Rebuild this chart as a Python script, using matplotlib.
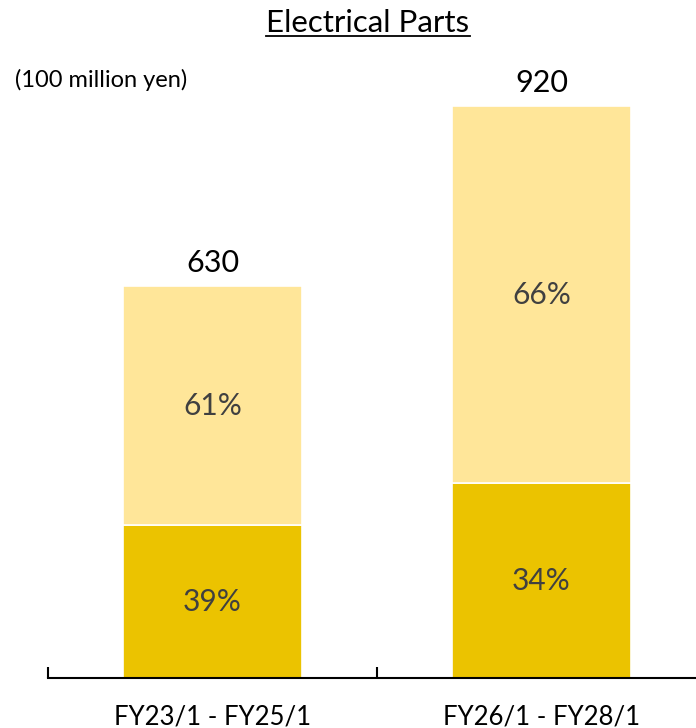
import matplotlib
matplotlib.use("Agg")
import matplotlib.pyplot as plt
from matplotlib.lines import Line2D
import numpy as np

plt.rcParams['font.family'] = ['Lato', 'DejaVu Sans']

# Planned investment, electrical parts segment
periods = ["FY23/1 - FY25/1", "FY26/1 - FY28/1"]
totals = [630, 920]
lower_share = [39, 34]
upper_share = [61, 66]

DARK = "#EBC300"
LIGHT = "#FFE699"

fig = plt.figure(figsize=(6.96, 7.28), dpi=100)
ax = fig.add_axes([48 / 696, 50 / 728, 658 / 696, 622 / 728])

x = np.arange(len(periods))
lower = [t * s / 100 for t, s in zip(totals, lower_share)]
upper = [t - l for t, l in zip(totals, lower)]

ax.bar(x, lower, width=0.545, color=DARK, edgecolor="white", linewidth=1.2)
ax.bar(x, upper, bottom=lower, width=0.545, color=LIGHT, edgecolor="white", linewidth=1.2)

for i in range(len(periods)):
    ax.text(x[i], lower[i] / 2, f"{lower_share[i]}%", ha="center", va="center",
            fontsize=21.5, color="#404040")
    ax.text(x[i], lower[i] + upper[i] / 2, f"{upper_share[i]}%", ha="center", va="center",
            fontsize=21.5, color="#404040")
    ax.text(x[i], totals[i] + 14, f"{totals[i]}", ha="center", va="bottom",
            fontsize=22, color="black")

ax.set_xlim(-0.5, 1.5)
ax.set_ylim(0, 1000)
for side in ["top", "right", "left"]:
    ax.spines[side].set_visible(False)
ax.spines["bottom"].set_linewidth(1.5)
ax.set_yticks([])
ax.set_xticks(x)
ax.set_xticklabels(periods, fontsize=18.5)
ax.tick_params(axis="x", which="major", length=0, pad=19)
ax.set_xticks([-0.5, 0.5, 1.5], minor=True)
ax.tick_params(axis="x", which="minor", direction="in", length=8, width=1.5)

fig.text(15 / 696, 1 - 80 / 728, "(100 million yen)", ha="left", va="center", fontsize=17)

title = fig.text(368 / 696, 1 - 23 / 728, "Electrical Parts", ha="center", va="center", fontsize=22.5)

# underline the title
fig.canvas.draw()
bb = title.get_window_extent().transformed(fig.transFigure.inverted())
fig.add_artist(Line2D([bb.x0, bb.x1], [bb.y0 + 0.002, bb.y0 + 0.002],
                      transform=fig.transFigure, color="black", linewidth=1.3))

fig.savefig("out.png", dpi=100)
